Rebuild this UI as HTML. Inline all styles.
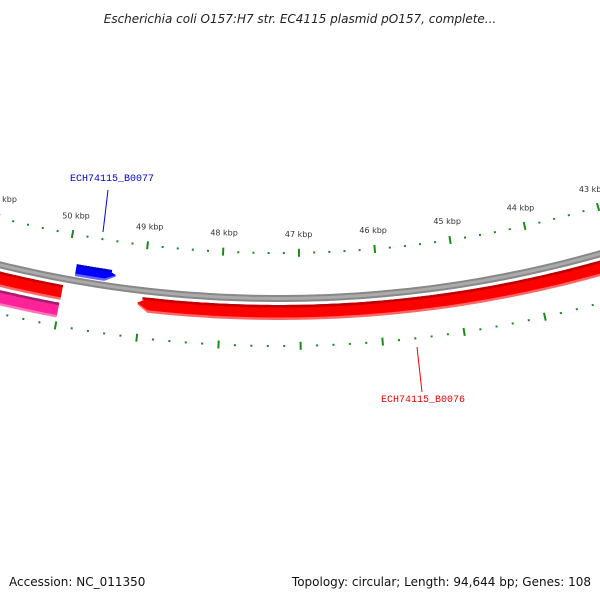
<!DOCTYPE html>
<html><head><meta charset="utf-8"><style>
html,body{margin:0;padding:0;background:#fff;}
#wrap{width:600px;height:600px;position:relative;overflow:hidden;}
svg{position:absolute;left:0;top:0;}
</style></head><body>
<div id="wrap">
<svg id="chart" width="600" height="600" viewBox="0 0 600 600">
<text x="300" y="23" text-anchor="middle" font-family="DejaVu Sans, sans-serif" font-style="italic" font-size="12" fill="#222">Escherichia coli O157:H7 str. EC4115 plasmid pO157, complete...</text>
<text x="9" y="586" font-family="DejaVu Sans, sans-serif" font-size="12" fill="#111">Accession: NC_011350</text>
<text x="591" y="586" text-anchor="end" font-family="DejaVu Sans, sans-serif" font-size="12" fill="#111">Topology: circular; Length: 94,644 bp; Genes: 108</text>
<g id="g-ticks"></g><g id="g-back"></g><g id="g-feat"></g><g id="g-lab"></g>
</svg></div>
<script>
const majorKbp = [42,43,44,45,46,47,48,49,50,51,52];
const tickLabels = ["42 kbp","43 kbp","44 kbp","45 kbp","46 kbp","47 kbp","48 kbp","49 kbp","50 kbp","51 kbp","52 kbp"];
const featStart = [49354, 40000, 50000, 50006];
const featEnd = [49874, 49046, 53000, 53000];
const featStrand = [1, -1, 0, 0];
const featNames = ["gene-ECH74115_B0077","gene-ECH74115_B0076","gene-left-red","gene-left-pink"];
const labelNames = ["ECH74115_B0077","ECH74115_B0076"];
const labelPos = [49600, 46400];

const NS="http://www.w3.org/2000/svg";
const CX=279, CY=-876, K=0.0000672, OFF=0.0177;
function ang(p){return OFF+(47000-p)*K;}
function pt(p,r){const t=ang(p);return [CX+r*Math.sin(t), CY+r*Math.cos(t)];}
function mk(tag,attrs,parent){const e=document.createElementNS(NS,tag);for(const k in attrs)e.setAttribute(k,attrs[k]);parent.appendChild(e);return e;}
function bandPts(p1,p2,r1,r2,strand){
  const head=140, pts=[];
  let a=Math.min(p1,p2), b=Math.max(p1,p2);
  let bodyA=a, bodyB=b;
  if(strand===1) bodyA=a+head; if(strand===-1) bodyB=b-head;
  const n=120;
  for(let i=0;i<=n;i++){pts.push(pt(bodyA+(bodyB-bodyA)*i/n,r1));}
  if(strand===-1) pts.push(pt(b,(r1+r2)/2));
  for(let i=n;i>=0;i--){pts.push(pt(bodyA+(bodyB-bodyA)*i/n,r2));}
  if(strand===1) pts.push(pt(a,(r1+r2)/2));
  return pts.map(q=>q[0].toFixed(1)+","+q[1].toFixed(1)).join(" ");
}
const gT=document.getElementById('g-ticks'),gB=document.getElementById('g-back'),gF=document.getElementById('g-feat'),gL=document.getElementById('g-lab');
// ticks
for(let p=41000;p<=53000;p+=200){
  const maj=(p%1000===0);
  for(const r of [1129,1222]){
    const h=maj?4:1;
    const a=pt(p,r-h),b=pt(p,r+h);
    const l=mk('line',{x1:a[0],y1:a[1],x2:b[0],y2:b[1],stroke:'#1a8a1a','stroke-width':2},gT);
    
    
  }
}
majorKbp.forEach((k,i)=>{
  const q=pt(k*1000,1110);
  const t=mk('text',{x:q[0],y:q[1]+3,'text-anchor':'middle','font-family':'DejaVu Sans, sans-serif','font-size':'8',fill:'#333'},gT);
  t.textContent=tickLabels[i];
  
  
});
// backbone
[[1171,1178,'#888'],[1173,1176,'#aaa']].forEach(s=>{
  const e=mk('polygon',{points:bandPts(38000,54000,s[0],s[1],0),fill:s[2]},gB);
  
  
});
// features
const styles={0:{r:[1158,1170],c:['#0000cc','#0000ff','#6666ff']},1:{r:[1181,1196],c:['#c00000','#ff0000','#ff6666']},2:{r:[1181,1196],c:['#c00000','#ff0000','#ff6666']},3:{r:[1199,1214],c:['#a0206a','#ff2299','#ff77bb']}};
featStart.forEach((s,i)=>{
  const st=styles[i], r1=st.r[0], r2=st.r[1];
  const g=mk('g',{},gF);
  
  
  mk('polygon',{points:bandPts(s,featEnd[i],r1,r2,featStrand[i]),fill:st.c[2]},g);
  mk('polygon',{points:bandPts(s,featEnd[i],r1,r2-2.5,featStrand[i]),fill:st.c[1]},g);
  mk('polygon',{points:bandPts(s+(featStrand[i]===1?60:0),featEnd[i]-(featStrand[i]===-1?60:0),r1,r1+2.5,0),fill:st.c[0]},g);
});
// gene labels
const lb=[{x:112,y:181,col:'#0000dd',l1:[108,190],l2:[103,232]},{x:423,y:402,col:'#ee0000',l1:[417,347],l2:[422,392]}];
lb.forEach((o,i)=>{
  const ln=mk('line',{x1:o.l1[0],y1:o.l1[1],x2:o.l2[0],y2:o.l2[1],stroke:o.col,'stroke-width':1},gL);
  
  
  const t=mk('text',{x:o.x,y:o.y,'text-anchor':'middle','font-family':'Liberation Mono, monospace','font-size':'10',fill:o.col},gL);
  t.textContent=labelNames[i];
  
  
});
</script>
</body></html>
